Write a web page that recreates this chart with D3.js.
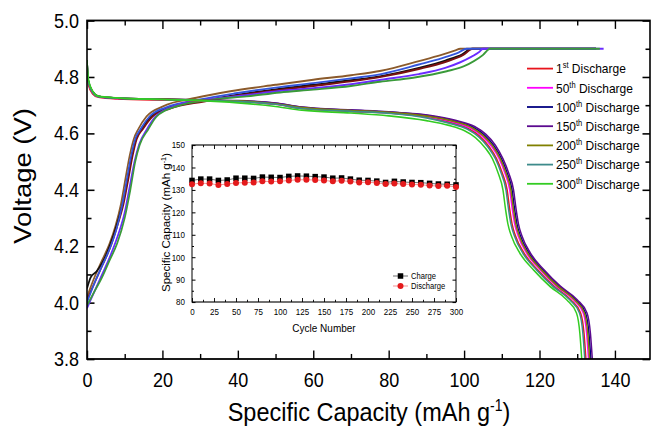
<!DOCTYPE html>
<html>
<head>
<meta charset="utf-8">
<script src="https://cdn.jsdelivr.net/npm/d3@7"></script>
<style>
  body { margin: 0; background: #fff; }
  svg { display: block; font-family: "Liberation Sans", Arial, sans-serif; }
</style>
</head>
<body>
<svg id="chart"></svg>
<script>
// ---- data ----
// inset: capacity vs cycle number
var cycles = [0,10,20,30,40,50,60,70,80,90,100,110,120,130,140,150,160,170,180,190,200,210,220,230,240,250,260,270,280,290,300];
var chargeCap = [134.2,134.8,134.8,134.2,134.4,135.2,135.2,135.1,135.7,135.6,135.5,136.0,136.2,136.1,135.9,135.7,135.2,135.3,134.8,134.3,134.2,133.9,133.3,133.8,133.5,133.3,133.2,132.9,132.6,132.5,132.2];
var dischargeCap = [132.5,133.0,132.8,132.2,132.6,133.1,133.2,133.3,133.8,133.7,133.8,134.2,134.5,134.5,134.4,134.2,133.8,134.1,133.7,133.3,133.4,133.1,132.6,132.8,132.6,132.4,132.3,131.9,131.7,131.8,131.3];

// main plot: discharge curves [capacity, voltage]
var discharge001 = [[0,4.83],[0.4,4.77],[1.5,4.74],[3,4.728],[8,4.722],[20,4.718],[30,4.716],[40,4.713],[50,4.703],[57,4.688],[70,4.678],[80,4.672],[90,4.657],[96.6,4.638],[101.1,4.617],[104.1,4.59],[106.6,4.553],[108.6,4.51],[110.1,4.46],[111.4,4.40],[112.1,4.33],[112.7,4.28],[113.7,4.234],[115.9,4.175],[119.5,4.116],[123.9,4.057],[128.3,4.01],[130.9,3.963],[131.8,3.891],[132.3,3.8]];
var discharge050 = [[0,4.85],[0.4,4.78],[1.5,4.745],[3,4.73],[8,4.724],[20,4.72],[30,4.717],[40,4.714],[50,4.704],[57,4.69],[70,4.68],[80,4.673],[90.5,4.658],[97,4.64],[101.8,4.618],[104.8,4.59],[107.3,4.553],[109.3,4.51],[110.8,4.46],[112.1,4.40],[112.8,4.33],[113.4,4.28],[114.4,4.234],[116.6,4.175],[120.2,4.116],[124.6,4.057],[129,4.01],[131.6,3.963],[132.5,3.891],[133,3.8]];
var discharge100 = [[0,4.86],[0.4,4.785],[1.5,4.748],[3,4.731],[8,4.725],[20,4.721],[30,4.718],[40,4.715],[50,4.706],[57,4.692],[70,4.682],[80,4.675],[90.7,4.662],[97.4,4.644],[102.4,4.622],[105.4,4.594],[107.9,4.556],[109.9,4.51],[111.4,4.46],[112.7,4.40],[113.4,4.33],[114,4.28],[115,4.234],[117.2,4.175],[120.8,4.116],[125.2,4.057],[129.6,4.01],[132.2,3.963],[133.1,3.891],[133.6,3.8]];
var discharge150 = [[0,4.86],[0.4,4.785],[1.5,4.748],[3,4.731],[8,4.725],[20,4.721],[30,4.718],[40,4.716],[50,4.707],[57,4.693],[70,4.683],[80,4.676],[90.8,4.664],[97.7,4.646],[102.8,4.624],[105.8,4.596],[108.3,4.558],[110.3,4.51],[111.8,4.46],[113.1,4.40],[113.8,4.33],[114.4,4.28],[115.4,4.234],[117.6,4.175],[121.2,4.116],[125.6,4.057],[130,4.01],[132.6,3.963],[133.5,3.891],[134,3.8]];
var discharge200 = [[0,4.86],[0.4,4.785],[1.5,4.748],[3,4.731],[8,4.725],[20,4.721],[30,4.718],[40,4.715],[50,4.705],[57,4.691],[70,4.681],[80,4.674],[90.6,4.66],[97.3,4.642],[102.1,4.62],[105.1,4.592],[107.6,4.555],[109.6,4.51],[111.1,4.46],[112.4,4.40],[113.1,4.33],[113.7,4.28],[114.7,4.234],[116.9,4.175],[120.5,4.116],[124.9,4.057],[129.3,4.01],[131.9,3.963],[132.8,3.891],[133.3,3.8]];
var discharge250 = [[0,4.86],[0.4,4.78],[1.5,4.745],[3,4.73],[8,4.725],[20,4.72],[30,4.717],[40,4.713],[50,4.703],[57,4.688],[70,4.678],[80,4.671],[90,4.655],[96,4.636],[100.8,4.615],[103.8,4.588],[106.3,4.552],[108.3,4.51],[109.8,4.46],[111.1,4.40],[111.8,4.33],[112.4,4.28],[113.4,4.234],[115.6,4.175],[119.2,4.116],[123.6,4.057],[128,4.01],[130.6,3.963],[131.5,3.891],[132,3.8]];
var discharge300 = [[0,4.86],[0.4,4.79],[1.5,4.75],[3,4.732],[8,4.726],[20,4.72],[30,4.716],[40,4.708],[50,4.695],[57,4.682],[70,4.672],[80,4.662],[90,4.645],[96,4.628],[100,4.61],[103,4.585],[105.5,4.55],[107.5,4.51],[109,4.46],[110.3,4.40],[111,4.33],[111.6,4.28],[112.6,4.234],[114.8,4.175],[118.4,4.116],[122.8,4.057],[127.2,4.01],[129.8,3.963],[130.7,3.891],[131.2,3.8]];

// main plot: charge curves (not in the legend)
var chargeA = [[0,4.02],[2,4.09],[4,4.15],[6,4.21],[7.5,4.27],[9,4.35],[10.2,4.44],[11.3,4.52],[12.4,4.58],[13.6,4.615],[15.8,4.66],[20,4.695],[29,4.726],[38,4.749],[50,4.772],[60,4.79],[70,4.806],[78,4.822],[88,4.856],[94,4.878],[97.5,4.893],[99,4.9],[135,4.9]];
var chargeB = [[0,4.05],[1,4.09],[2.5,4.11],[4,4.14],[6,4.2],[8,4.28],[9.6,4.36],[10.8,4.44],[11.9,4.52],[13,4.58],[14.5,4.615],[17,4.66],[21.5,4.69],[31,4.716],[40,4.737],[50,4.756],[60,4.772],[70,4.788],[78,4.803],[88,4.832],[95,4.858],[99.5,4.88],[102,4.9],[135,4.9]];
var chargeC = [[0,4.01],[2,4.07],[4,4.13],[6,4.19],[8,4.27],[9.7,4.35],[11,4.44],[12.1,4.52],[13.2,4.58],[14.8,4.615],[17.4,4.66],[22,4.688],[31,4.713],[40,4.734],[50,4.752],[60,4.768],[70,4.784],[78,4.8],[88,4.828],[95,4.853],[99.8,4.878],[102.3,4.9],[135,4.9]];
var chargeD = [[0,4.0],[2,4.07],[4,4.13],[6,4.19],[7.8,4.26],[9.4,4.35],[10.6,4.44],[11.7,4.52],[12.8,4.58],[14.2,4.615],[16.6,4.66],[21,4.692],[30,4.72],[39,4.741],[50,4.762],[60,4.778],[70,4.795],[78,4.81],[88,4.844],[94,4.866],[98.5,4.886],[100.7,4.9],[135,4.9]];
var chargeE = [[0,3.98],[2,4.04],[4,4.1],[6,4.16],[8,4.23],[10,4.32],[11.3,4.41],[12.6,4.5],[13.8,4.56],[15.8,4.613],[18.2,4.66],[23.5,4.698],[33,4.722],[42,4.735],[51,4.75],[60,4.76],[70,4.774],[78,4.79],[88,4.81],[95,4.832],[99,4.852],[102,4.872],[104,4.888],[105,4.9],[137,4.9]];
var chargeF = [[0,3.99],[2,4.04],[4,4.09],[6,4.15],[8,4.21],[10,4.3],[11.5,4.4],[12.8,4.5],[14,4.56],[16.2,4.613],[18.5,4.66],[23.8,4.696],[33.5,4.72],[42.3,4.731],[51.2,4.745],[60,4.755],[70,4.768],[77.7,4.783],[86.5,4.797],[95.4,4.82],[100,4.838],[102.6,4.856],[105,4.878],[106.9,4.9],[136,4.9]];

var cycleNames = ["1", "50", "100", "150", "200", "250", "300"];
var cycleSuffix = ["st", "th", "th", "th", "th", "th", "th"];
var xTicks = [0, 20, 40, 60, 80, 100, 120, 140];
var yTicks = [3.8, 4.0, 4.2, 4.4, 4.6, 4.8, 5.0];
var insetXTicks = [0, 25, 50, 75, 100, 125, 150, 175, 200, 225, 250, 275, 300];
var insetYTicks = [80, 90, 100, 110, 120, 130, 140, 150];

var dischargeCurves = [discharge001, discharge050, discharge100, discharge150, discharge200, discharge250, discharge300];
var dischargeColors = ["#e8141c", "#ff00ff", "#000080", "#5b0a8f", "#808000", "#3d8b8b", "#33cc22"];
var chargeCurves = [chargeA, chargeB, chargeC, chargeD, chargeE, chargeF];
var chargeColors = ["#8b5a2b", "#111111", "#7a1010", "#3355dd", "#6a2cff", "#3a9a3a"];

// ---- layout ----
// the original figure is stretched vertically, so y is drawn in squeezed units
var W = 653, H = 435, SY = 1.12;
function py(v) { return v / SY; }

var svg = d3.select("#chart")
    .attr("width", W)
    .attr("height", H)
    .attr("viewBox", "0 0 " + W + " " + (H / SY))
    .attr("preserveAspectRatio", "none");

var plotL = 87, plotR = 650, plotT = py(20.5), plotB = py(359);

var x = d3.scaleLinear().domain([0, 149.3]).range([plotL, plotR]);
var y = d3.scaleLinear().domain([3.8, 5.0]).range([plotB, plotT]);

svg.append("defs").append("clipPath").attr("id", "plotclip")
  .append("rect").attr("x", plotL).attr("y", plotT).attr("width", plotR - plotL).attr("height", plotB - plotT);

function styleAxis(g, size) {
  g.select(".domain").remove();
  g.attr("font-family", null).attr("font-size", size);
  g.selectAll("line").attr("stroke", "#000").attr("stroke-width", 1.4);
  g.selectAll("text").attr("fill", "#000");
}

var xMinor = [10, 30, 50, 70, 90, 110, 130];
var yMinor = [3.9, 4.1, 4.3, 4.5, 4.7, 4.9];

// major and minor ticks, all pointing inward
svg.append("g").attr("transform", "translate(0," + plotB + ")")
  .call(d3.axisBottom(x).tickValues(xTicks).tickSize(-7.5).tickPadding(12.2).tickFormat(d3.format("d")))
  .call(styleAxis, 18);
svg.append("g").attr("transform", "translate(0," + plotB + ")")
  .call(d3.axisBottom(x).tickValues(xMinor).tickSize(-4.5).tickFormat(""))
  .call(styleAxis, 18);
svg.append("g").attr("transform", "translate(0," + plotT + ")")
  .call(d3.axisTop(x).tickValues(xTicks).tickSize(-7.5).tickFormat(""))
  .call(styleAxis, 18);
svg.append("g").attr("transform", "translate(0," + plotT + ")")
  .call(d3.axisTop(x).tickValues(xMinor).tickSize(-4.5).tickFormat(""))
  .call(styleAxis, 18);

svg.append("g").attr("transform", "translate(" + plotL + ",0)")
  .call(d3.axisLeft(y).tickValues(yTicks).tickSize(-7.5).tickPadding(8).tickFormat(d3.format(".1f")))
  .call(styleAxis, 18);
svg.append("g").attr("transform", "translate(" + plotL + ",0)")
  .call(d3.axisLeft(y).tickValues(yMinor).tickSize(-4.5).tickFormat(""))
  .call(styleAxis, 18);
svg.append("g").attr("transform", "translate(" + plotR + ",0)")
  .call(d3.axisRight(y).tickValues(yTicks).tickSize(-7.5).tickFormat(""))
  .call(styleAxis, 18);
svg.append("g").attr("transform", "translate(" + plotR + ",0)")
  .call(d3.axisRight(y).tickValues(yMinor).tickSize(-4.5).tickFormat(""))
  .call(styleAxis, 18);

// curves
var line = d3.line()
    .x(function(d) { return x(d[0]); })
    .y(function(d) { return y(d[1]); })
    .curve(d3.curveMonotoneX);

var curves = svg.append("g").attr("clip-path", "url(#plotclip)");

curves.selectAll(".charge")
  .data(chargeCurves)
  .enter().append("path")
    .attr("class", "charge")
    .attr("d", line)
    .attr("fill", "none")
    .attr("stroke", function(d, i) { return chargeColors[i]; })
    .attr("stroke-width", 1.7);

curves.selectAll(".discharge")
  .data(dischargeCurves)
  .enter().append("path")
    .attr("class", "discharge")
    .attr("d", line)
    .attr("fill", "none")
    .attr("stroke", function(d, i) { return dischargeColors[i]; })
    .attr("stroke-width", 1.5);

// frame
svg.append("rect")
    .attr("x", plotL).attr("y", plotT)
    .attr("width", plotR - plotL).attr("height", plotB - plotT)
    .attr("fill", "none").attr("stroke", "#000").attr("stroke-width", 1.6);

// axis titles
var xt = svg.append("text")
    .attr("x", 369).attr("y", py(421))
    .attr("text-anchor", "middle")
    .attr("font-size", 23.5)
    .text("Specific Capacity (mAh g");
xt.append("tspan").attr("font-size", 14).attr("dy", -9).text("-1");
xt.append("tspan").attr("dy", 9).text(")");

svg.append("text")
    .attr("transform", "translate(31," + py(176) + ") rotate(-90)")
    .attr("text-anchor", "middle")
    .attr("font-size", 24.5)
    .text("Voltage (V)");

// legend
var legend = svg.selectAll(".legend")
  .data(cycleNames)
  .enter().append("g")
    .attr("class", "legend")
    .attr("transform", function(d, i) { return "translate(0," + py(68.6 + i * 19.2) + ")"; });

legend.append("line")
    .attr("x1", 527).attr("x2", 553)
    .attr("stroke", function(d, i) { return dischargeColors[i]; })
    .attr("stroke-width", 1.6);

var lt = legend.append("text")
    .attr("x", 556).attr("y", 4.3)
    .attr("font-size", 12)
    .text(function(d) { return d; });
lt.append("tspan").attr("font-size", 7.5).attr("dy", -4.5).text(function(d, i) { return cycleSuffix[i]; });
lt.append("tspan").attr("dy", 4.5).text(" Discharge");

// ---- inset ----
var il = 192, ir = 456, itop = py(145), ibot = py(302);
var xi = d3.scaleLinear().domain([0, 300]).range([il, ir]);
var yi = d3.scaleLinear().domain([80, 150]).range([ibot, itop]);

var inset = svg.append("g");
inset.append("rect")
    .attr("x", 158).attr("y", py(136))
    .attr("width", 306).attr("height", py(340) - py(136))
    .attr("fill", "#fff");

var ixMinor = [12.5, 37.5, 62.5, 87.5, 112.5, 137.5, 162.5, 187.5, 212.5, 237.5, 262.5, 287.5];
var iyMinor = [85, 95, 105, 115, 125, 135, 145];

inset.append("g").attr("transform", "translate(0," + ibot + ")")
  .call(d3.axisBottom(xi).tickValues(insetXTicks).tickSize(-3.5).tickPadding(5.9).tickFormat(d3.format("d")))
  .call(styleAxis, 8);
inset.append("g").attr("transform", "translate(0," + ibot + ")")
  .call(d3.axisBottom(xi).tickValues(ixMinor).tickSize(-2).tickFormat(""))
  .call(styleAxis, 8);
inset.append("g").attr("transform", "translate(0," + itop + ")")
  .call(d3.axisTop(xi).tickValues(insetXTicks).tickSize(-3.5).tickFormat(""))
  .call(styleAxis, 8);
inset.append("g").attr("transform", "translate(0," + itop + ")")
  .call(d3.axisTop(xi).tickValues(ixMinor).tickSize(-2).tickFormat(""))
  .call(styleAxis, 8);
inset.append("g").attr("transform", "translate(" + il + ",0)")
  .call(d3.axisLeft(yi).tickValues(insetYTicks).tickSize(-3.5).tickPadding(7).tickFormat(d3.format("d")))
  .call(styleAxis, 8);
inset.append("g").attr("transform", "translate(" + il + ",0)")
  .call(d3.axisLeft(yi).tickValues(iyMinor).tickSize(-2).tickFormat(""))
  .call(styleAxis, 8);
inset.append("g").attr("transform", "translate(" + ir + ",0)")
  .call(d3.axisRight(yi).tickValues(insetYTicks).tickSize(-3.5).tickFormat(""))
  .call(styleAxis, 8);
inset.append("g").attr("transform", "translate(" + ir + ",0)")
  .call(d3.axisRight(yi).tickValues(iyMinor).tickSize(-2).tickFormat(""))
  .call(styleAxis, 8);
inset.selectAll("line").attr("stroke-width", 0.9);

inset.append("rect")
    .attr("x", il).attr("y", itop)
    .attr("width", ir - il).attr("height", ibot - itop)
    .attr("fill", "none").attr("stroke", "#000").attr("stroke-width", 1);

var chargePts = cycles.map(function(c, i) { return [c, chargeCap[i]]; });
var dischargePts = cycles.map(function(c, i) { return [c, dischargeCap[i]]; });
var iline = d3.line()
    .x(function(d) { return xi(d[0]); })
    .y(function(d) { return yi(d[1]); });

inset.append("path").attr("d", iline(chargePts))
    .attr("fill", "none").attr("stroke", "#555").attr("stroke-width", 0.8);
inset.append("path").attr("d", iline(dischargePts))
    .attr("fill", "none").attr("stroke", "#f28080").attr("stroke-width", 0.8);

var sq = 5.5;
inset.selectAll(".csq")
  .data(chargePts)
  .enter().append("rect")
    .attr("class", "csq")
    .attr("x", function(d) { return xi(d[0]) - sq / 2; })
    .attr("y", function(d) { return yi(d[1]) - sq / 2 / SY; })
    .attr("width", sq).attr("height", sq / SY)
    .attr("fill", "#000");
inset.selectAll(".dci")
  .data(dischargePts)
  .enter().append("ellipse")
    .attr("class", "dci")
    .attr("cx", function(d) { return xi(d[0]); })
    .attr("cy", function(d) { return yi(d[1]); })
    .attr("rx", 3).attr("ry", 3 / SY)
    .attr("fill", "#e41a1c");

// inset legend
var ilx = 393, ilw = 15;
[["Charge", 276], ["Discharge", 286]].forEach(function(e, i) {
  var yy = py(e[1]);
  inset.append("line").attr("x1", ilx).attr("x2", ilx + ilw).attr("y1", yy).attr("y2", yy)
    .attr("stroke", i === 0 ? "#555" : "#f28080").attr("stroke-width", 0.8);
  if (i === 0) {
    inset.append("rect").attr("x", ilx + ilw / 2 - sq / 2).attr("y", yy - sq / 2 / SY)
      .attr("width", sq).attr("height", sq / SY).attr("fill", "#000");
  } else {
    inset.append("ellipse").attr("cx", ilx + ilw / 2).attr("cy", yy)
      .attr("rx", 3).attr("ry", 3 / SY).attr("fill", "#e41a1c");
  }
  inset.append("text").attr("x", ilx + ilw + 3).attr("y", yy + 2.6)
    .attr("font-size", 7.6).text(e[0]);
});

inset.append("text")
    .attr("x", (il + ir) / 2).attr("y", py(332.5))
    .attr("text-anchor", "middle")
    .attr("font-size", 10)
    .text("Cycle Number");

var it = inset.append("text")
    .attr("transform", "translate(170," + py(222.5) + ") rotate(-90)")
    .attr("text-anchor", "middle")
    .attr("font-size", 10.3)
    .text("Specific Capacity (mAh g");
it.append("tspan").attr("font-size", 6.5).attr("dy", -4).text("-1");
it.append("tspan").attr("dy", 4).text(")");
</script>
</body>
</html>
